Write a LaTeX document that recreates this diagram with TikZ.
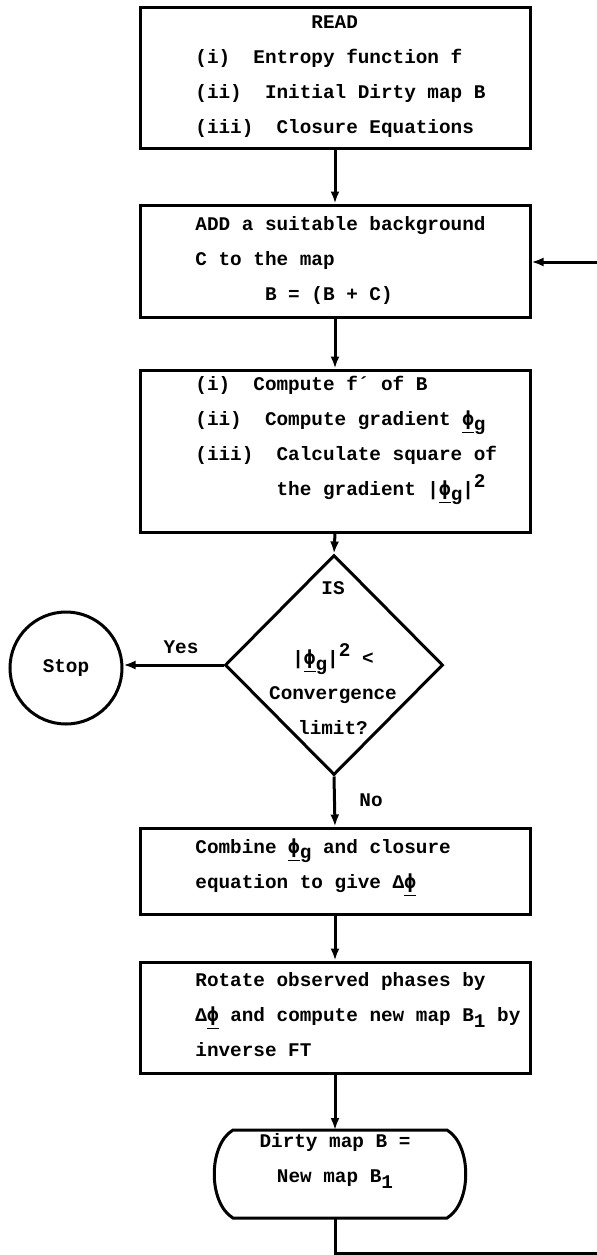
\documentclass[tikz,border=0pt]{standalone}
\usepackage{fontspec}
\setmonofont{Liberation Mono}
\newfontfamily\phifont{DejaVu Sans Mono}
\usetikzlibrary{shapes.geometric,arrows.meta}
\newcommand\myphi{{\phifont\bfseries ϕ}}
\newcommand\phig{\underline{\myphi}\raisebox{-0.55ex}{g}}
\newcommand\subone{\raisebox{-0.55ex}{1}}
\newcommand\suptwo{\raisebox{0.75ex}{2}}
\begin{document}
\begin{tikzpicture}[x=0.5pt,y=-0.5pt,
  every node/.style={font=\fontsize{9.67}{17.5}\selectfont\ttfamily\bfseries},
  box/.style={draw, line width=1.5pt, minimum width=195pt, inner sep=0pt},
  txt/.style={align=left, inner sep=0pt, anchor=west},
  ctxt/.style={align=center, inner sep=0pt},
  arr/.style={line width=1.5pt, -{Latex[length=6pt,width=4.5pt]}},
  ln/.style={line width=1.5pt}]
\useasboundingbox (0,0) rectangle (597,1255);
% boxes
\node[box, minimum height=70.5pt] (b1) at (335,77.5) {};
\node[txt] (t1) at (195,76.5) {~~~~~~~~~~READ\\(i)~~Entropy function f\\(ii)~~Initial Dirty map B\\(iii)~~Closure Equations};
\node[box, minimum height=56pt] (b2) at (335,261) {};
\node[txt] (t2) at (195,260) {ADD a suitable background\\C to the map\\~~~~~~B = (B + C)};
\node[box, minimum height=81pt] (b3) at (335,451) {};
\node[txt] (t3) at (195,440.5) {(i)~~Compute f´ of B\\(ii)~~Compute gradient \phig\\(iii)~~Calculate square of\\~~~~~~~the gradient |\phig|\suptwo};
\node[draw, diamond, line width=1.5pt, minimum width=109pt, minimum height=110pt, inner sep=0pt] (dia) at (334,665) {};
\node[ctxt] (dtxt) at (333,658) {IS\\[17.5pt]|\phig|\suptwo{} <\\Convergence\\limit?};
\node[draw, circle, line width=1.5pt, minimum size=56pt, inner sep=0pt] (stop) at (66,668) {Stop};
\node[ctxt] (yes) at (181,647) {Yes};
\node[ctxt] (no) at (371,800) {No};
\node[box, minimum height=43pt] (b4) at (335,871) {};
\node[txt] (t4) at (195,867.5) {Combine \phig{} and closure\\equation to give Δ\underline{\myphi}};
\node[box, minimum height=55.5pt] (b5) at (335,1017.5) {};
\node[txt] (t5) at (195,1015) {Rotate observed phases by\\Δ\underline{\myphi} and compute new map B\subone{} by\\inverse FT};
% terminal
\node[minimum width=107pt, minimum height=44pt, inner sep=0pt, outer sep=0pt] (term) at (340,1174) {};
\draw[ln] (term.north west) -- (term.north east)
  .. controls ([shift={(25,15)}]term.north east) and ([shift={(25,-15)}]term.south east) .. (term.south east)
  -- (term.south west)
  .. controls ([shift={(-25,-15)}]term.south west) and ([shift={(-25,15)}]term.north west) .. cycle;
\node[ctxt] (ttxt) at (335,1161) {Dirty map B =\\New map B\subone};
% connectors
\draw[arr] (b1.south) -- (b2.north);
\draw[arr] (b2.south) -- (b3.north);
\draw[arr] (b3.south) -- (dia.north);
\draw[arr] (dia.south) -- (b4.north);
\draw[arr] (b4.south) -- (b5.north);
\draw[arr] (b5.south) -- (b5.south |- term.north);
\draw[arr] (dia.west) -- (dia.west -| stop.east);
\coordinate (br) at (597,1253);
\coordinate (tr) at (597,262);
\draw[ln] (b5.south |- term.south) |- (br);
\draw[arr] (tr) -- (tr -| b2.east);
\end{tikzpicture}
\end{document}
